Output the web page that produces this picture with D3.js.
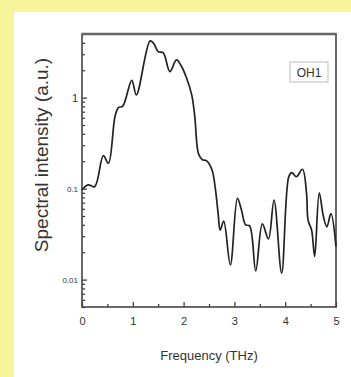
<!DOCTYPE html>
<html>
<head>
<meta charset="utf-8">
<script src="https://cdn.jsdelivr.net/npm/d3@7"></script>
<style>
  body { margin: 0; background: #f7f59c; }
  svg { display: block; }
</style>
</head>
<body>
<svg width="351" height="377"></svg>
<script>
// frequency (THz) and spectral intensity (a.u.)
const freq = [0, 0.12, 0.25, 0.42, 0.52, 0.65, 0.72, 0.8, 0.98, 1.07, 1.34, 1.41, 1.5, 1.6, 1.73, 1.86, 1.96, 2.06, 2.16, 2.22, 2.29, 2.36, 2.46, 2.56, 2.62, 2.68, 2.72, 2.79, 2.92, 3.06, 3.14, 3.22, 3.3, 3.42, 3.55, 3.67, 3.78, 3.93, 4.07, 4.13, 4.22, 4.34, 4.42, 4.45, 4.52, 4.58, 4.67, 4.75, 4.82, 4.9, 5.0];
const intensity = [0.097, 0.11, 0.105, 0.23, 0.19, 0.62, 0.78, 0.8, 1.55, 1.07, 4.2, 3.95, 3.2, 3.1, 1.93, 2.6, 2.2, 1.63, 1.07, 0.62, 0.245, 0.21, 0.2, 0.16, 0.105, 0.053, 0.035, 0.044, 0.0145, 0.078, 0.058, 0.04, 0.039, 0.0125, 0.041, 0.028, 0.075, 0.0118, 0.135, 0.15, 0.135, 0.163, 0.089, 0.045, 0.035, 0.018, 0.09, 0.05, 0.038, 0.053, 0.023];
const xTicks = [0, 1, 2, 3, 4, 5];
const xMinorTicks = [0.5, 1.5, 2.5, 3.5, 4.5];
const yTicks = [0.01, 0.1, 1];
const yTickLabels = ['0.01', '0.1', '1'];

const svg = d3.select('svg');
const width = +svg.attr('width');
const height = +svg.attr('height');

// white panel on yellow page
svg.append('rect')
    .attr('x', 14).attr('y', 12)
    .attr('width', width - 14).attr('height', height - 12)
    .attr('fill', 'white');

const margin = {top: 34, right: 15, bottom: 70, left: 82};
const innerWidth = width - margin.left - margin.right;
const innerHeight = height - margin.top - margin.bottom;

const xScale = d3.scaleLinear().domain([0, 5]).range([0, innerWidth]);
const yScale = d3.scaleLog().domain([0.005, 5]).range([innerHeight, 0]);

const g = svg.append('g')
    .attr('transform', `translate(${margin.left},${margin.top})`);

// x axis, ticks pointing inward
const xAxisG = g.append('g')
    .attr('transform', `translate(0,${innerHeight})`)
    .call(d3.axisBottom(xScale).tickValues(xTicks).tickSizeInner(-5).tickSizeOuter(0).tickPadding(10)
        .tickFormat(d3.format('d')));
const xMinorG = g.append('g')
    .attr('transform', `translate(0,${innerHeight})`)
    .call(d3.axisBottom(xScale).tickValues(xMinorTicks).tickSize(-3).tickFormat(''));
xMinorG.selectAll('text, .domain').remove();

// y axis, major and minor ticks inward
const minor = [];
[0.001, 0.01, 0.1, 1].forEach(d => {
    for (let k = 2; k <= 9; k++) {
        const v = d * k;
        if (v >= 0.005 && v <= 5) minor.push(v);
    }
});
const yAxisG = g.append('g')
    .call(d3.axisLeft(yScale).tickValues(yTicks).tickSizeInner(-5).tickSizeOuter(0).tickPadding(4)
        .tickFormat((d, i) => yTickLabels[i]));
const yMinorG = g.append('g')
    .call(d3.axisLeft(yScale).tickValues(minor).tickSize(-3).tickFormat(''));
yMinorG.selectAll('text, .domain').remove();

g.selectAll('.tick line').attr('stroke', '#333').attr('stroke-width', 1.2);
g.selectAll('.domain').remove();

xAxisG.selectAll('text')
    .attr('font-family', 'Liberation Sans, Arial, sans-serif')
    .attr('font-size', 11).attr('fill', '#333');
yAxisG.selectAll('text')
    .attr('font-family', 'Liberation Sans, Arial, sans-serif')
    .attr('font-size', d => d === 1 ? 11 : 8).attr('fill', '#333');

// frame
g.append('rect')
    .attr('width', innerWidth).attr('height', innerHeight)
    .attr('fill', 'none').attr('stroke', '#444').attr('stroke-width', 1.6);
g.append('line')
    .attr('x1', 0).attr('x2', innerWidth).attr('y1', 0).attr('y2', 0)
    .attr('stroke', '#666').attr('stroke-width', 2.6);

// spectrum line
const line = d3.line()
    .x((d, i) => xScale(freq[i]))
    .y(d => yScale(d))
    .curve(d3.curveCatmullRom.alpha(0.5));
g.append('path')
    .datum(intensity)
    .attr('d', line)
    .attr('fill', 'none')
    .attr('stroke', '#222')
    .attr('stroke-width', 1.7);

// legend box
g.append('rect')
    .attr('x', 208).attr('y', 28).attr('width', 38).attr('height', 20)
    .attr('fill', 'white').attr('stroke', '#bbb').attr('stroke-width', 1);
g.append('text')
    .attr('x', 227).attr('y', 43)
    .attr('text-anchor', 'middle')
    .attr('font-family', 'Liberation Sans, Arial, sans-serif')
    .attr('font-size', 12).attr('fill', '#333')
    .text('OH1');

// axis titles
svg.append('text')
    .attr('x', margin.left + innerWidth / 2).attr('y', 360)
    .attr('text-anchor', 'middle')
    .attr('font-family', 'Liberation Sans, Arial, sans-serif')
    .attr('font-size', 13).attr('fill', '#333')
    .text('Frequency (THz)');
svg.append('text')
    .attr('transform', `translate(48,${155}) rotate(-90)`)
    .attr('text-anchor', 'middle')
    .attr('font-family', 'Liberation Sans, Arial, sans-serif')
    .attr('font-size', 19).attr('fill', '#333')
    .text('Spectral intensity (a.u.)');
</script>
</body>
</html>
